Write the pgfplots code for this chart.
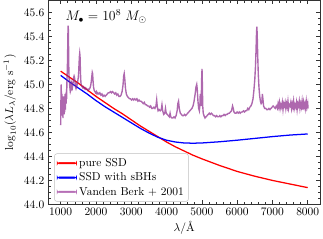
\documentclass[border=0pt]{standalone}
\usepackage{pgfplots}
\pgfplotsset{compat=1.18}
\definecolor{vbk}{RGB}{140,40,140}
\definecolor{vbkl}{RGB}{182,110,182}
\definecolor{myblue}{RGB}{0,0,255}
\definecolor{myred}{RGB}{255,0,0}
\begin{document}
\begin{tikzpicture}
\begin{axis}[
  scale only axis, width=237pt, height=178pt,
  xmin=650, xmax=8350, ymin=44.0, ymax=45.7,
  xtick={1000,2000,3000,4000,5000,6000,7000,8000},
  ytick={44.0,44.2,44.4,44.6,44.8,45.0,45.2,45.4,45.6},
  minor x tick num=4, minor y tick num=3,
  tick align=inside, xtick pos=both, ytick pos=both,
  major tick length=3.5pt, minor tick length=2pt,
  every tick/.style={black!80, line width=0.5pt},
  axis line style={black!80, line width=0.6pt},
  scaled x ticks=false,
  xticklabel style={/pgf/number format/1000 sep={}},
  yticklabel style={/pgf/number format/.cd, fixed, fixed zerofill, precision=1},
  xlabel={$\lambda/$\AA},
  ylabel={$\log_{10}(\lambda L_\lambda/\mathrm{erg\ s^{-1}})$},
  xlabel style={yshift=2pt},
  legend cell align=left,
  legend style={at={(0.022,0.014)}, anchor=south west, draw=black!25, rounded corners=2pt,
    fill=white, row sep=0pt, inner sep=2pt},
]
\addlegendimage{legend image code/.code={\fill[myred] (0cm,-0.65pt) rectangle (0.6cm,0.65pt);}}
\addlegendimage{legend image code/.code={\fill[myblue] (0cm,-0.65pt) rectangle (0.6cm,0.65pt);}}
\addlegendimage{legend image code/.code={\fill[vbkl] (0cm,-0.65pt) rectangle (0.6cm,0.65pt);}}
\legend{pure SSD, SSD with sBHs, Vanden Berk + 2001}
\addplot[myred, line width=1.1pt, forget plot] coordinates {
(1000,45.11) (1250,45.06) (1500,45.01) (1750,44.955) (2000,44.90) (2250,44.85) (2500,44.80)
(2750,44.755) (3000,44.705) (3250,44.655) (3500,44.61) (3750,44.565) (4000,44.52)
(4250,44.48) (4500,44.445) (4750,44.41) (5000,44.38) (5500,44.325) (6000,44.275)
(6500,44.235) (7000,44.20) (7500,44.17) (8000,44.14)
};
\addplot[myblue, line width=1.1pt, forget plot] coordinates {
(1000,45.075) (1250,45.02) (1500,44.97) (1750,44.92) (2000,44.865) (2250,44.815) (2500,44.77)
(2750,44.725) (3000,44.68) (3250,44.635) (3500,44.595) (3750,44.56) (4000,44.535)
(4250,44.52) (4500,44.512) (4750,44.51) (5000,44.512) (5500,44.522) (6000,44.535)
(6500,44.55) (7000,44.565) (7500,44.578) (8000,44.587)
};
\addplot[vbk, opacity=0.7, line width=1.2pt, forget plot] coordinates {
(1000,44.66) (1005,44.80) (1010,44.95) (1015,45.00) (1020,44.90) (1025,44.78) (1030,44.85)
(1035,44.92) (1040,44.80) (1045,44.74) (1050,44.86) (1055,44.90) (1060,44.78) (1065,44.72)
(1070,44.82) (1075,44.88) (1080,44.76) (1085,44.80) (1090,44.90) (1095,44.84) (1100,44.75)
(1105,44.85) (1110,44.80) (1115,44.77) (1120,44.86) (1125,44.92) (1130,44.82) (1135,44.79)
(1140,44.88) (1145,44.85) (1150,44.93) (1155,44.84) (1160,44.90) (1165,44.96) (1170,44.88)
(1175,45.00) (1180,45.05) (1185,45.10) (1190,45.15) (1195,45.22) (1200,45.32) (1205,45.42)
(1212,45.49) (1218,45.45) (1224,45.30) (1230,45.15) (1236,45.06) (1242,45.04) (1248,45.02)
(1255,44.99) (1262,44.97) (1270,44.99) (1280,44.96) (1290,44.98) (1300,44.97) (1310,45.00)
(1320,44.98) (1330,44.97) (1340,44.99) (1350,45.01) (1360,45.04) (1370,45.06) (1380,45.07)
(1390,45.06) (1400,45.04) (1410,45.00) (1420,44.98) (1430,44.97) (1440,44.99) (1450,44.98)
(1460,44.99) (1470,45.00) (1480,45.02) (1490,45.04) (1500,45.06) (1510,45.10) (1520,45.17)
(1530,45.23) (1540,45.26) (1548,45.24) (1556,45.15) (1565,45.06) (1575,45.01) (1590,44.99)
(1610,44.98) (1630,44.97) (1650,44.98) (1670,44.97) (1690,44.96) (1710,44.97) (1730,44.96)
(1750,44.96) (1770,44.95) (1790,44.96) (1810,44.96) (1830,44.97) (1850,44.99) (1865,45.02)
(1880,45.06) (1895,45.10) (1905,45.09) (1915,45.04) (1930,44.98) (1950,44.95) (1970,44.94)
(1990,44.93) (2010,44.94) (2030,44.92) (2050,44.93) (2080,44.92) (2110,44.93) (2140,44.91)
(2170,44.92) (2200,44.90) (2230,44.91) (2260,44.90) (2290,44.91) (2320,44.92) (2350,44.93)
(2380,44.93) (2410,44.94) (2440,44.93) (2470,44.94) (2500,44.93) (2530,44.92) (2560,44.93)
(2590,44.91) (2620,44.92) (2650,44.90) (2680,44.90) (2710,44.91) (2740,44.94) (2765,44.99)
(2785,45.07) (2800,45.09) (2815,45.05) (2835,44.97) (2860,44.92) (2890,44.90) (2920,44.89)
(2950,44.88) (2980,44.88) (3010,44.87) (3040,44.88) (3070,44.87) (3100,44.88) (3130,44.87)
(3160,44.88) (3190,44.86) (3220,44.87) (3250,44.86) (3280,44.86) (3310,44.85) (3340,44.84)
(3370,44.85) (3400,44.83) (3430,44.83) (3460,44.82) (3490,44.82) (3520,44.81) (3550,44.82)
(3580,44.80) (3610,44.80) (3640,44.81) (3670,44.80) (3700,44.82) (3720,44.87) (3735,44.82)
(3760,44.78) (3790,44.79) (3820,44.78) (3850,44.79) (3870,44.83) (3890,44.78) (3920,44.75)
(3950,44.76) (3970,44.80) (3990,44.76) (4020,44.75) (4050,44.74) (4080,44.73) (4100,44.76)
(4120,44.73) (4150,44.72) (4180,44.72) (4210,44.73) (4240,44.72) (4270,44.74) (4300,44.78)
(4320,44.84) (4340,44.86) (4360,44.80) (4390,44.76) (4420,44.75) (4450,44.74) (4480,44.74)
(4510,44.75) (4540,44.74) (4570,44.75) (4600,44.76) (4630,44.77) (4660,44.78) (4690,44.79)
(4720,44.80) (4750,44.82) (4780,44.86) (4810,44.92) (4835,44.98) (4855,45.00) (4870,44.96)
(4890,44.86) (4910,44.80) (4930,44.78) (4945,44.83) (4955,44.92) (4965,44.86) (4980,44.82)
(4995,45.05) (5005,45.13) (5015,45.00) (5025,44.82) (5040,44.76) (5060,44.74) (5090,44.72)
(5120,44.73) (5150,44.74) (5180,44.75) (5210,44.76) (5240,44.75) (5270,44.76) (5300,44.75)
(5330,44.74) (5360,44.74) (5390,44.73) (5420,44.74) (5450,44.73) (5480,44.73) (5510,44.74)
(5540,44.73) (5570,44.74) (5600,44.74) (5630,44.75) (5660,44.74) (5690,44.75) (5720,44.75)
(5750,44.76) (5780,44.76) (5810,44.77) (5840,44.78) (5870,44.82) (5890,44.80) (5910,44.77)
(5940,44.76) (5970,44.76) (6000,44.77) (6030,44.76) (6060,44.77) (6090,44.76) (6120,44.77)
(6150,44.77) (6180,44.78) (6210,44.77) (6240,44.78) (6270,44.78) (6300,44.80) (6330,44.79)
(6360,44.81) (6390,44.82) (6420,44.84) (6450,44.88) (6475,44.95) (6500,45.04) (6520,45.15)
(6535,45.28) (6550,45.44) (6560,45.48) (6570,45.40) (6585,45.22) (6600,45.08) (6620,44.97)
(6640,44.90) (6660,44.86) (6680,44.84) (6700,44.85) (6715,44.92) (6730,44.88) (6750,44.82)
(6780,44.80) (6810,44.80) (6840,44.79) (6870,44.79) (6900,44.80) (6930,44.79) (6960,44.80)
(6990,44.81) (7020,44.82) (7050,44.81) (7080,44.80) (7110,44.82) (7140,44.80) (7160,44.84)
(7180,44.81) (7200,44.85) (7220,44.80) (7240,44.83) (7260,44.81) (7280,44.85) (7300,44.79)
(7320,44.84) (7340,44.82) (7360,44.85) (7380,44.80) (7400,44.84) (7420,44.81) (7440,44.86)
(7460,44.80) (7480,44.83) (7500,44.82) (7520,44.85) (7540,44.80) (7560,44.84) (7580,44.81)
(7600,44.86) (7620,44.80) (7640,44.83) (7660,44.81) (7680,44.85) (7700,44.79) (7720,44.84)
(7740,44.82) (7760,44.86) (7780,44.80) (7800,44.84) (7820,44.81) (7840,44.86) (7860,44.79)
(7880,44.85) (7900,44.81) (7920,44.84) (7940,44.80) (7960,44.86) (7980,44.81) (8000,44.84)
(8010,44.80)
};
\node[anchor=north west, inner sep=0pt] at (rel axis cs:0.063,0.955)
  {\fontsize{11.5}{13}\selectfont $M_\bullet = 10^8\ M_\odot$};
\end{axis}
\end{tikzpicture}
\end{document}
